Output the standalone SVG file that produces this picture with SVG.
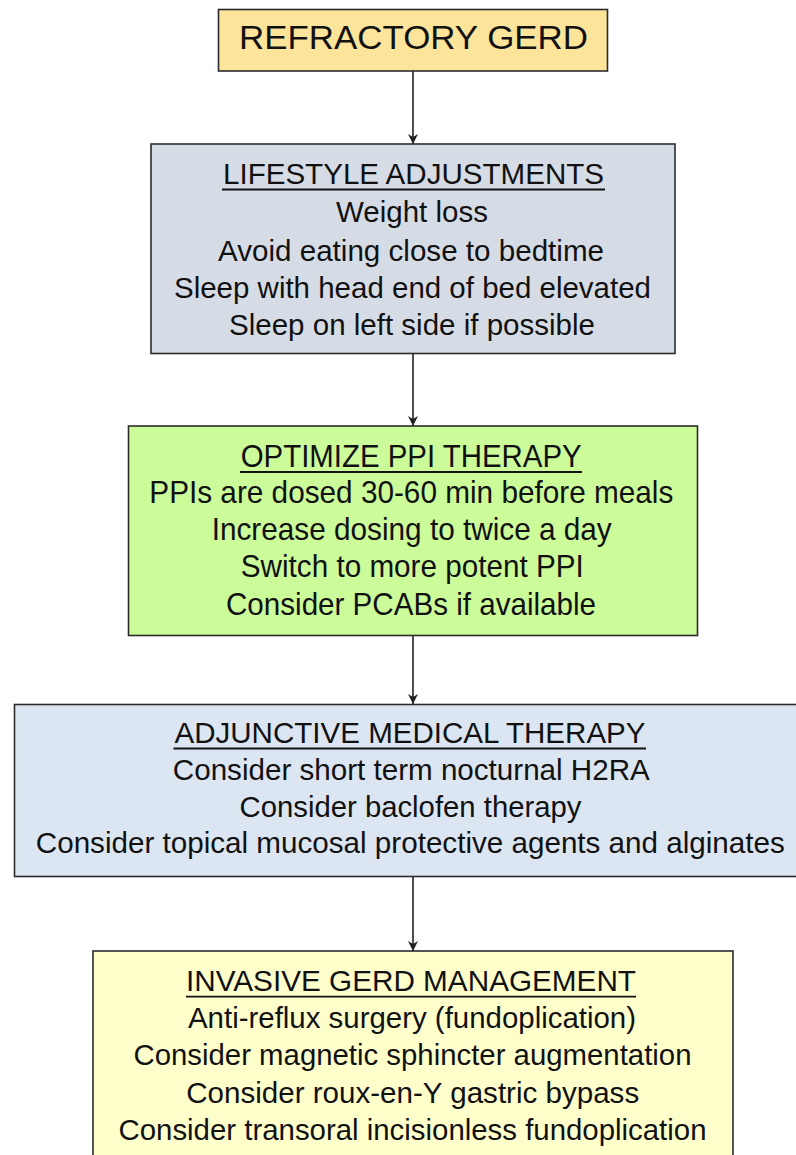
<svg xmlns="http://www.w3.org/2000/svg" width="796" height="1155" viewBox="0 0 796 1155">
  <style>
    .box { stroke: #2b2b2b; stroke-width: 1.6; }
    .t { font-family: "Liberation Sans", Arial, sans-serif; fill: #111; text-anchor: middle; }
    .ul { stroke: #111; stroke-width: 1.8; }
    .conn { stroke: #222; stroke-width: 1.6; fill: none; }
  </style>
  <defs>
    <marker id="arrow" viewBox="0 0 10 10" refX="10" refY="5" markerUnits="userSpaceOnUse" markerWidth="11" markerHeight="10" orient="auto">
      <path d="M0,0 L10,5 L0,10 L3,5 z" fill="#222"/>
    </marker>
  </defs>
  <rect width="796" height="1155" fill="#ffffff"/>

  <g id="connectors">
    <line class="conn" x1="413" y1="71" x2="413" y2="144" marker-end="url(#arrow)"/>
    <line class="conn" x1="413" y1="354" x2="413" y2="426" marker-end="url(#arrow)"/>
    <line class="conn" x1="413" y1="636" x2="413" y2="704" marker-end="url(#arrow)"/>
    <line class="conn" x1="413" y1="877" x2="413" y2="951" marker-end="url(#arrow)"/>
  </g>

  <g id="refractory-gerd">
    <rect class="box" x="218.5" y="9.5" width="389" height="61.5" fill="#fde49b"/>
    <text class="t" x="413.5" y="49" font-size="34" textLength="349" lengthAdjust="spacingAndGlyphs">REFRACTORY GERD</text>
  </g>

  <g id="lifestyle">
    <rect class="box" x="151" y="144" width="524" height="209.5" fill="#d6dce5"/>
    <text class="t" x="413.5" y="184" font-size="30" textLength="381" lengthAdjust="spacingAndGlyphs">LIFESTYLE ADJUSTMENTS</text>
    <line class="ul" x1="222" y1="189.5" x2="605" y2="189.5"/>
    <text class="t" x="412" y="222" font-size="30" textLength="152" lengthAdjust="spacingAndGlyphs">Weight loss</text>
    <text class="t" x="411" y="261" font-size="30" textLength="386" lengthAdjust="spacingAndGlyphs">Avoid eating close to bedtime</text>
    <text class="t" x="412.5" y="298" font-size="30" textLength="477" lengthAdjust="spacingAndGlyphs">Sleep with head end of bed elevated</text>
    <text class="t" x="412" y="334.5" font-size="30" textLength="366" lengthAdjust="spacingAndGlyphs">Sleep on left side if possible</text>
  </g>

  <g id="optimize-ppi">
    <rect class="box" x="128.5" y="426" width="569" height="209.5" fill="#ccfb9a"/>
    <text class="t" x="411.2" y="466.7" font-size="32" textLength="341" lengthAdjust="spacingAndGlyphs">OPTIMIZE PPI THERAPY</text>
    <line class="ul" x1="240" y1="472" x2="582" y2="472"/>
    <text class="t" x="411.3" y="503.3" font-size="32" textLength="524" lengthAdjust="spacingAndGlyphs">PPIs are dosed 30-60 min before meals</text>
    <text class="t" x="411.7" y="540" font-size="32" textLength="400" lengthAdjust="spacingAndGlyphs">Increase dosing to twice a day</text>
    <text class="t" x="412.3" y="577.3" font-size="32" textLength="343" lengthAdjust="spacingAndGlyphs">Switch to more potent PPI</text>
    <text class="t" x="411" y="615" font-size="32" textLength="370" lengthAdjust="spacingAndGlyphs">Consider PCABs if available</text>
  </g>

  <g id="adjunctive">
    <rect class="box" x="14.5" y="704.5" width="790" height="172" fill="#dce6f2"/>
    <text class="t" x="410" y="743.3" font-size="30" textLength="471" lengthAdjust="spacingAndGlyphs">ADJUNCTIVE MEDICAL THERAPY</text>
    <line class="ul" x1="173.5" y1="748.5" x2="646" y2="748.5"/>
    <text class="t" x="411.3" y="780" font-size="30" textLength="477" lengthAdjust="spacingAndGlyphs">Consider short term nocturnal H2RA</text>
    <text class="t" x="410.5" y="816.7" font-size="30" textLength="342" lengthAdjust="spacingAndGlyphs">Consider baclofen therapy</text>
    <text class="t" x="410.3" y="853.3" font-size="30" textLength="749" lengthAdjust="spacingAndGlyphs">Consider topical mucosal protective agents and alginates</text>
  </g>

  <g id="invasive">
    <rect class="box" x="93" y="951" width="640" height="220" fill="#ffffcc"/>
    <text class="t" x="411" y="991" font-size="30" textLength="450" lengthAdjust="spacingAndGlyphs">INVASIVE GERD MANAGEMENT</text>
    <line class="ul" x1="186" y1="996.7" x2="636" y2="996.7"/>
    <text class="t" x="412" y="1027.7" font-size="30" textLength="448" lengthAdjust="spacingAndGlyphs">Anti-reflux surgery (fundoplication)</text>
    <text class="t" x="412.5" y="1065" font-size="30" textLength="558" lengthAdjust="spacingAndGlyphs">Consider magnetic sphincter augmentation</text>
    <text class="t" x="412.7" y="1102.7" font-size="30" textLength="453" lengthAdjust="spacingAndGlyphs">Consider roux-en-Y gastric bypass</text>
    <text class="t" x="412.5" y="1140" font-size="30" textLength="588" lengthAdjust="spacingAndGlyphs">Consider transoral incisionless fundoplication</text>
  </g>
</svg>
